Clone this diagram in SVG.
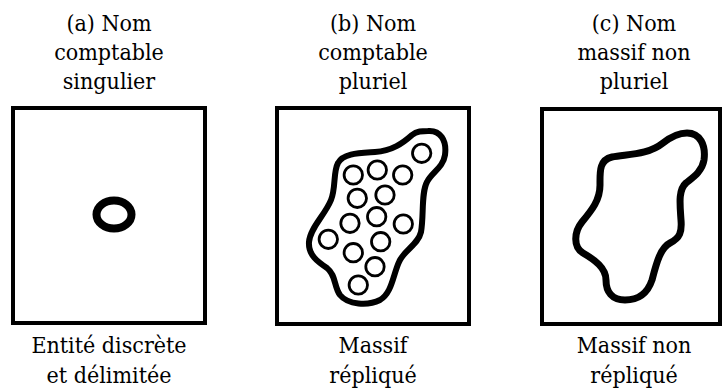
<svg xmlns="http://www.w3.org/2000/svg" width="725" height="390" viewBox="0 0 725 390">
  <style>
    .t { font-family: "DejaVu Serif Condensed", "DejaVu Serif", serif; font-stretch: condensed; font-size: 23px; fill: #000; text-anchor: middle; }
    .frame { fill: #fff; stroke: #000; stroke-width: 4; }
    .blob { fill: none; stroke: #000; stroke-linejoin: round; }
    .dot { fill: none; stroke: #000; stroke-width: 2.8; }
  </style>
  <rect width="725" height="390" fill="#fff"/>

  <g id="panel-a">
    <text class="t" x="109" y="31">(a) Nom</text>
    <text class="t" x="109" y="60">comptable</text>
    <text class="t" x="109" y="89">singulier</text>
    <rect class="frame" x="13" y="108" width="192" height="215"/>
    <ellipse cx="114" cy="214.5" rx="17.5" ry="14" fill="none" stroke="#000" stroke-width="8"/>
    <text class="t" x="109" y="353">Entité discrète</text>
    <text class="t" x="109" y="383">et délimitée</text>
  </g>

  <g id="panel-b">
    <text class="t" x="373" y="31">(b) Nom</text>
    <text class="t" x="373" y="60">comptable</text>
    <text class="t" x="373" y="89">pluriel</text>
    <rect class="frame" x="277" y="108" width="192" height="216"/>
    <path class="blob" stroke-width="6" d="M 428,131 C 440,130 447,140 445,155 C 443,168 432,172 427,182 C 421,193 424,215 421,232 C 418,245 404,250 399,262 C 393,275 392,293 380,300 C 368,306 348,305 340,295 C 334,287 336,275 327,268 C 318,262 308,255 309,242 C 310,228 325,215 331,200 C 336,188 333,172 338,163 C 343,153 360,153 375,152 C 392,151 403,143 412,135 C 417,131 422,131 428,131 Z"/>
    <g>
      <circle class="dot" cx="421.7" cy="153.3" r="9.2"/>
      <circle class="dot" cx="353.3" cy="175" r="9.2"/>
      <circle class="dot" cx="377.3" cy="170" r="9.2"/>
      <circle class="dot" cx="402.7" cy="175" r="9.2"/>
      <circle class="dot" cx="357.3" cy="198.3" r="9.2"/>
      <circle class="dot" cx="385" cy="195" r="9.2"/>
      <circle class="dot" cx="350" cy="223.3" r="9.2"/>
      <circle class="dot" cx="376.7" cy="216.7" r="9.2"/>
      <circle class="dot" cx="403.3" cy="224" r="9.2"/>
      <circle class="dot" cx="328.3" cy="239.3" r="9.2"/>
      <circle class="dot" cx="380.7" cy="241.7" r="9.2"/>
      <circle class="dot" cx="353.3" cy="252.7" r="9.2"/>
      <circle class="dot" cx="375" cy="266.7" r="9.2"/>
      <circle class="dot" cx="358.3" cy="285" r="9.2"/>
    </g>
    <text class="t" x="373" y="353">Massif</text>
    <text class="t" x="373" y="383">répliqué</text>
  </g>

  <g id="panel-c">
    <text class="t" x="634" y="31">(c) Nom</text>
    <text class="t" x="634" y="60">massif non</text>
    <text class="t" x="634" y="89">pluriel</text>
    <rect class="frame" x="542" y="109" width="178" height="215"/>
    <path class="blob" stroke-width="7" d="M 687,133 C 700,133 706,145 704,160 C 702,172 692,178 686,183 C 678,190 680,205 681,220 C 682,232 680,238 670,243 C 660,248 656,265 652,280 C 648,292 640,300 625,300 C 612,300 606,292 606,280 C 606,268 595,260 583,253 C 573,247 574,232 582,222 C 592,210 600,200 600,185 C 600,172 599,160 612,157 C 628,154 648,155 663,143 C 672,136 680,133 687,133 Z"/>
    <text class="t" x="634" y="353">Massif non</text>
    <text class="t" x="634" y="383">répliqué</text>
  </g>
</svg>
